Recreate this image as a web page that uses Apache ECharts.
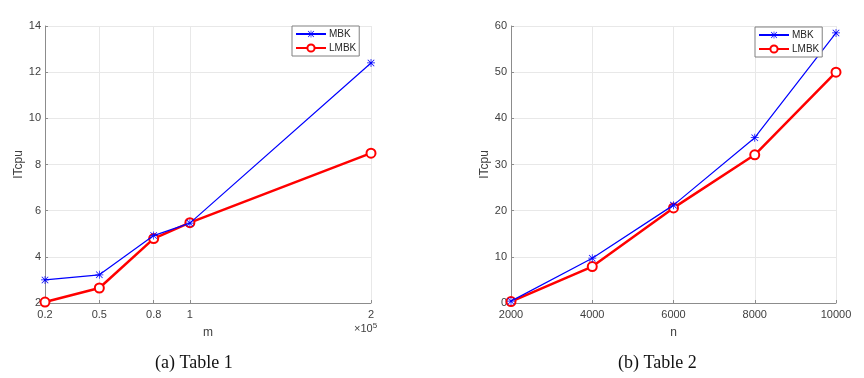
<!DOCTYPE html>
<html>
<head>
<meta charset="utf-8">
<script src="https://cdn.jsdelivr.net/npm/echarts@6/dist/echarts.min.js"></script>
<style>
  html, body { margin: 0; padding: 0; background: #fff; }
  #main { width: 864px; height: 378px; }
</style>
</head>
<body>
<div id="main"></div>
<script>
// table 1 (x in units of 1e5)
var mValues = [0.2, 0.5, 0.8, 1, 2];
var mbk1 = [3.0, 3.22, 4.92, 5.46, 12.4];
var lmbk1 = [2.04, 2.65, 4.79, 5.48, 8.49];

// table 2
var nValues = [2000, 4000, 6000, 8000, 10000];
var mbk2 = [0.4, 9.7, 21.2, 35.8, 58.5];
var lmbk2 = [0.3, 7.9, 20.6, 32.1, 50.0];

var seriesNames = ['MBK', 'LMBK'];

var starPath = 'path://M9.1 0h1.8v20h-1.8z M0 9.1h20v1.8h-20z ' +
  'M2.5 1.2L18.8 17.5L17.5 18.8L1.2 2.5z M17.5 1.2L18.8 2.5L2.5 18.8L1.2 17.5z';

var txt = '#404040';
var font = 'Liberation Sans';

function pairs(xs, ys) {
  return xs.map(function (x, i) { return [x, ys[i]]; });
}

function xAxisCfg(idx, opt) {
  return Object.assign({
    type: 'value',
    gridIndex: idx,
    nameLocation: 'middle',
    nameGap: 24,
    nameTextStyle: { color: txt, fontFamily: font, fontSize: 12 },
    axisLine: { lineStyle: { color: '#8c8c8c', width: 1 } },
    axisTick: { inside: true, length: 3, lineStyle: { color: '#8c8c8c' } },
    axisLabel: { color: txt, fontFamily: font, fontSize: 11, margin: 6,
      formatter: function (v) { return String(v); } },
    splitLine: { show: true, lineStyle: { color: '#e8e8e8', width: 1 } }
  }, opt);
}

function yAxisCfg(idx, opt) {
  return Object.assign({
    type: 'value',
    gridIndex: idx,
    nameLocation: 'middle',
    nameGap: 18,
    nameTextStyle: { color: txt, fontFamily: font, fontSize: 12 },
    axisLine: { show: true, lineStyle: { color: '#8c8c8c', width: 1 } },
    axisTick: { show: true, inside: true, length: 3, lineStyle: { color: '#8c8c8c' } },
    axisLabel: { color: txt, fontFamily: font, fontSize: 11, margin: 4 },
    splitLine: { show: true, lineStyle: { color: '#e8e8e8', width: 1 } }
  }, opt);
}

function mbkSeries(idx, data) {
  return {
    name: 'MBK', type: 'line', xAxisIndex: idx, yAxisIndex: idx,
    data: data, symbol: starPath, symbolSize: 8,
    lineStyle: { color: '#0000ff', width: 1.2 },
    itemStyle: { color: '#0000ff' },
    z: 3
  };
}

function lmbkSeries(idx, data) {
  return {
    name: 'LMBK', type: 'line', xAxisIndex: idx, yAxisIndex: idx,
    data: data, symbol: 'emptyCircle', symbolSize: 9,
    lineStyle: { color: '#ff0000', width: 2.5 },
    itemStyle: { color: '#ff0000', borderColor: '#ff0000', borderWidth: 2 },
    z: 2
  };
}

function legendCfg(left, top) {
  return {
    data: seriesNames,
    orient: 'vertical',
    left: left, top: top,
    itemWidth: 30, itemHeight: 9, itemGap: 4,
    padding: [3, 3, 3, 3],
    borderColor: '#808080', borderWidth: 1,
    backgroundColor: '#fff',
    textStyle: { color: '#262626', fontFamily: font, fontSize: 10, padding: [0, 0, 0, -2] }
  };
}

var myChart = echarts.init(document.getElementById('main'));

var option = {
  animation: false,
  backgroundColor: '#fff',
  grid: [
    { left: 45, right: 493, top: 26, bottom: 75 },
    { left: 511, right: 28, top: 26, bottom: 75 }
  ],
  xAxis: [
    xAxisCfg(0, {
      name: 'm', min: 0.2, max: 2,
      axisTick: { inside: true, length: 3, lineStyle: { color: '#8c8c8c' }, customValues: mValues },
      axisLabel: { color: txt, fontFamily: font, fontSize: 11, margin: 6, customValues: mValues,
        formatter: function (v) { return String(Math.round(v * 10) / 10); } }
    }),
    xAxisCfg(1, { name: 'n', min: 2000, max: 10000, interval: 2000 })
  ],
  yAxis: [
    yAxisCfg(0, { name: 'ITcpu', min: 2, max: 14, interval: 2 }),
    yAxisCfg(1, { name: 'ITcpu', min: 0, max: 60, interval: 10 })
  ],
  legend: [legendCfg(292, 26), legendCfg(755, 27)],
  series: [
    mbkSeries(0, pairs(mValues, mbk1)),
    lmbkSeries(0, pairs(mValues, lmbk1)),
    mbkSeries(1, pairs(nValues, mbk2)),
    lmbkSeries(1, pairs(nValues, lmbk2))
  ],
  graphic: [
    {
      type: 'text', left: 354, top: 322,
      style: {
        text: '×10{s|5}', fill: txt, font: '11px "Liberation Sans"',
        rich: { s: { fontSize: 8, verticalAlign: 'top', padding: [0, 0, 6, 0], fill: txt } }
      }
    },
    {
      type: 'text', left: 155, top: 354,
      style: { text: '(a) Table 1', fill: '#111', font: '18px "Liberation Serif"' }
    },
    {
      type: 'text', left: 618, top: 354,
      style: { text: '(b) Table 2', fill: '#111', font: '18px "Liberation Serif"' }
    }
  ]
};

myChart.setOption(option);
</script>
</body>
</html>
